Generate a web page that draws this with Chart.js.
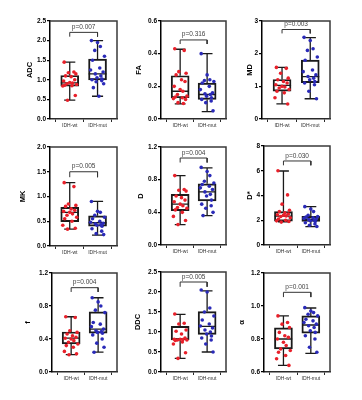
<!DOCTYPE html>
<html>
<head>
<meta charset="utf-8">
<script src="https://cdn.jsdelivr.net/npm/chart.js@4.4.0/dist/chart.umd.min.js"></script>
<style>
  html, body { margin: 0; padding: 0; background: #fff; }
  #wrap { position: relative; width: 362px; height: 400px; }
  #wrap canvas { position: absolute; }
</style>
</head>
<body>
<div id="wrap"></div>
<script>
// groups and p-values
const groups = ['IDH-wt', 'IDH-mut'];

// box stats: [min, q1, median, q3, max]
const adcWt = [1.45, 1.20, 1.18, 1.15, 1.10, 1.08, 1.00, 0.97, 0.93, 0.92, 0.90, 0.88, 0.86, 0.85, 0.84, 0.60, 0.48];
const adcMut = [2.00, 1.95, 1.85, 1.75, 1.60, 1.50, 1.30, 1.25, 1.20, 1.15, 1.10, 1.05, 1.02, 1.00, 0.98, 0.95, 0.90, 0.80, 0.58];
const adcBoxWt = [0.48, 0.84, 0.92, 1.11, 1.45];
const adcBoxMut = [0.58, 1.00, 1.15, 1.53, 2.00];
const adcTicks = ['0.0', '0.5', '1.0', '1.5', '2.0', '2.5'];

const faWt = [0.43, 0.42, 0.29, 0.28, 0.27, 0.24, 0.23, 0.20, 0.18, 0.17, 0.15, 0.14, 0.135, 0.13, 0.125, 0.12, 0.10, 0.095];
const faMut = [0.40, 0.27, 0.24, 0.235, 0.23, 0.22, 0.20, 0.18, 0.16, 0.155, 0.15, 0.14, 0.13, 0.12, 0.11, 0.10, 0.05];
const faBoxWt = [0.092, 0.13, 0.17, 0.265, 0.427];
const faBoxMut = [0.045, 0.12, 0.15, 0.22, 0.40];
const faTicks = ['0.0', '0.2', '0.4', '0.6'];

const mdWt = [1.58, 1.55, 1.40, 1.25, 1.20, 1.15, 1.10, 1.05, 1.00, 0.98, 0.95, 0.90, 0.85, 0.80, 0.65, 0.46];
const mdMut = [2.50, 2.40, 2.15, 2.10, 1.90, 1.80, 1.50, 1.45, 1.35, 1.30, 1.25, 1.20, 1.15, 1.10, 1.05, 0.85, 0.62];
const mdBoxWt = [0.46, 0.85, 1.03, 1.21, 1.58];
const mdBoxMut = [0.62, 1.11, 1.30, 1.80, 2.49];
const mdTicks = ['0', '1', '2', '3'];

const mkWt = [1.28, 1.20, 0.85, 0.82, 0.80, 0.75, 0.72, 0.70, 0.68, 0.65, 0.62, 0.58, 0.55, 0.50, 0.42, 0.36, 0.34];
const mkMut = [0.90, 0.70, 0.68, 0.62, 0.58, 0.55, 0.50, 0.48, 0.46, 0.45, 0.43, 0.42, 0.40, 0.35, 0.30, 0.25, 0.23];
const mkBoxWt = [0.34, 0.49, 0.68, 0.78, 1.28];
const mkBoxMut = [0.22, 0.40, 0.47, 0.61, 0.90];
const mkTicks = ['0.0', '0.5', '1.0', '1.5', '2.0'];

const dWt = [0.85, 0.68, 0.67, 0.66, 0.60, 0.58, 0.55, 0.53, 0.50, 0.48, 0.46, 0.45, 0.43, 0.40, 0.35, 0.30, 0.25];
const dMut = [0.95, 0.90, 0.85, 0.78, 0.76, 0.74, 0.72, 0.70, 0.68, 0.65, 0.62, 0.60, 0.55, 0.50, 0.48, 0.45, 0.40, 0.36];
const dBoxWt = [0.25, 0.42, 0.50, 0.62, 0.85];
const dBoxMut = [0.36, 0.54, 0.65, 0.75, 0.945];
const dTicks = ['0.0', '0.4', '0.8', '1.2'];

const dsWt = [6.0, 4.05, 3.3, 2.8, 2.7, 2.6, 2.5, 2.45, 2.4, 2.35, 2.3, 2.2, 2.1, 2.0, 1.95, 1.9, 1.85];
const dsMut = [3.1, 2.9, 2.7, 2.4, 2.3, 2.25, 2.2, 2.15, 2.1, 2.05, 2.0, 1.95, 1.9, 1.8, 1.7, 1.6, 1.5];
const dsBoxWt = [1.88, 1.92, 2.34, 2.70, 5.98];
const dsBoxMut = [1.48, 1.91, 2.08, 2.32, 3.10];
const dsTicks = ['0', '2', '4', '6', '8'];

const fWt = [0.67, 0.66, 0.50, 0.48, 0.46, 0.44, 0.42, 0.41, 0.40, 0.38, 0.36, 0.34, 0.32, 0.30, 0.25, 0.22, 0.21];
const fMut = [0.90, 0.85, 0.80, 0.75, 0.72, 0.60, 0.58, 0.55, 0.52, 0.50, 0.49, 0.48, 0.47, 0.45, 0.40, 0.35, 0.30, 0.24];
const fBoxWt = [0.21, 0.34, 0.41, 0.485, 0.67];
const fBoxMut = [0.24, 0.47, 0.52, 0.73, 0.90];
const fTicks = ['0.0', '0.4', '0.8', '1.2'];

const ddcWt = [1.45, 1.22, 1.20, 1.05, 1.02, 0.95, 0.85, 0.82, 0.82, 0.81, 0.80, 0.80, 0.79, 0.75, 0.70, 0.48, 0.34];
const ddcMut = [2.05, 2.00, 1.60, 1.50, 1.40, 1.30, 1.20, 1.15, 1.10, 1.05, 1.00, 0.95, 0.90, 0.85, 0.80, 0.70, 0.50];
const ddcBoxWt = [0.34, 0.80, 0.82, 1.14, 1.44];
const ddcBoxMut = [0.50, 0.94, 1.14, 1.51, 2.03];
const ddcTicks = ['0.0', '0.5', '1.0', '1.5', '2.0', '2.5'];

const aWt = [0.94, 0.90, 0.89, 0.87, 0.84, 0.82, 0.81, 0.80, 0.78, 0.76, 0.74, 0.73, 0.72, 0.70, 0.68, 0.64];
const aMut = [0.99, 0.97, 0.96, 0.95, 0.94, 0.92, 0.91, 0.90, 0.89, 0.88, 0.87, 0.85, 0.84, 0.82, 0.80, 0.75, 0.72];
const aBoxWt = [0.64, 0.74, 0.80, 0.867, 0.94];
const aBoxMut = [0.713, 0.836, 0.885, 0.94, 0.988];
const aTicks = ['0.6', '0.8', '1.0', '1.2'];

// [label, wt, mut, boxWt, boxMut, ticks, p text, bracket low, bracket high]
const panels = [
  ['ADC', adcWt, adcMut, adcBoxWt, adcBoxMut, adcTicks, 'p=0.007', 2.10, 2.21],
  ['FA',  faWt,  faMut,  faBoxWt,  faBoxMut,  faTicks,  'p=0.316', 0.459, 0.484],
  ['MD',  mdWt,  mdMut,  mdBoxWt,  mdBoxMut,  mdTicks,  'p=0.003', 2.62, 2.74],
  ['MK',  mkWt,  mkMut,  mkBoxWt,  mkBoxMut,  mkTicks,  'p=0.005', 1.39, 1.50],
  ['D',   dWt,   dMut,   dBoxWt,   dBoxMut,   dTicks,   'p=0.004', 1.01, 1.065],
  ['D*',  dsWt,  dsMut,  dsBoxWt,  dsBoxMut,  dsTicks,  'p=0.030', 6.44, 6.79],
  ['f',   fWt,   fMut,   fBoxWt,   fBoxMut,   fTicks,   'p=0.004', 0.97, 1.022],
  ['DDC', ddcWt, ddcMut, ddcBoxWt, ddcBoxMut, ddcTicks, 'p=0.005', 2.13, 2.25],
  ['α',   aWt,   aMut,   aBoxWt,   aBoxMut,   aTicks,   'p=0.001', 1.054, 1.083]
];

// plot area of each panel on the page: left, right, top, bottom, y-title offset
const layout = [
  [50, 118, 21, 119, 20], [161, 227, 21, 119, 22], [262, 331, 21, 119, 12],
  [50, 118, 147, 246, 27], [161, 227, 147, 245, 20], [264, 331, 146, 245, 14],
  [52, 118, 273, 372, 24], [161, 227, 272, 372, 23], [264, 331, 273, 372, 22]
];

// horizontal spread of the dots around each group centre
const jitter = [-0.2, 0.15, -0.05, 0.22, -0.15, 0.05, 0.18, -0.22, 0.0, 0.1, -0.1, 0.25, -0.18, 0.08, -0.25, 0.2, -0.08, 0.12, -0.02, 0.16];

const FONT = 'Liberation Sans, Arial, sans-serif';

function whiskers(s, cx) {
  const bw = 0.32, cw = 0.2;
  return [
    {x: cx - bw, y: s[2]}, {x: cx + bw, y: s[2]}, {x: cx, y: null},
    {x: cx, y: s[3]}, {x: cx, y: s[4]}, {x: cx, y: null},
    {x: cx - cw, y: s[4]}, {x: cx + cw, y: s[4]}, {x: cx, y: null},
    {x: cx, y: s[1]}, {x: cx, y: s[0]}, {x: cx, y: null},
    {x: cx - cw, y: s[0]}, {x: cx + cw, y: s[0]}
  ];
}

const framePlugin = {
  id: 'frame',
  afterDraw(chart) {
    const {ctx, chartArea: a} = chart;
    ctx.save();
    ctx.strokeStyle = '#3a3a3a';
    ctx.lineWidth = 1.5;
    ctx.beginPath();
    ctx.moveTo(a.left, a.top);
    ctx.lineTo(a.right, a.top);
    ctx.lineTo(a.right, a.bottom);
    ctx.stroke();
    ctx.restore();
  }
};

const pPlugin = {
  id: 'ptext',
  afterDatasetsDraw(chart, args, opts) {
    const {ctx, scales} = chart;
    ctx.save();
    ctx.font = '6.5px ' + FONT;
    ctx.fillStyle = '#444';
    ctx.textAlign = 'center';
    ctx.textBaseline = 'bottom';
    ctx.fillText(opts.text, scales.x.getPixelForValue(1.5), scales.y.getPixelForValue(opts.y) - 2);
    ctx.restore();
  }
};

const wrap = document.getElementById('wrap');

panels.forEach(([label, wt, mut, bWt, bMut, ticks, pText, bLo, bHi], k) => {
  const [left, right, top, bottom, tOff] = layout[k];
  const W = Math.round(tOff + 4.5), padTop = 6, xH = 20, padRight = 3;
  const c = document.createElement('canvas');
  c.width = W + (right - left) + padRight;
  c.height = padTop + (bottom - top) + xH;
  c.style.left = (left - W) + 'px';
  c.style.top = (top - padTop) + 'px';
  wrap.appendChild(c);

  const yVals = ticks.map(Number);

  new Chart(c, {
    type: 'scatter',
    data: {
      datasets: [
        {
          type: 'scatter',
          data: wt.map((v, i) => ({x: 1 + jitter[i % jitter.length], y: v})),
          backgroundColor: '#e8202a', borderColor: '#e8202a',
          pointRadius: 1.8, borderWidth: 0, order: 0
        },
        {
          type: 'scatter',
          data: mut.map((v, i) => ({x: 2 + jitter[(i + 7) % jitter.length], y: v})),
          backgroundColor: '#2a2ab8', borderColor: '#2a2ab8',
          pointRadius: 1.8, borderWidth: 0, order: 0
        },
        {
          type: 'bar',
          data: [{x: 1, y: [bWt[1], bWt[3]]}, {x: 2, y: [bMut[1], bMut[3]]}],
          backgroundColor: 'rgba(255,255,255,0)',
          borderColor: '#1a1a1a', borderWidth: 1.3, borderSkipped: false,
          barThickness: 18, order: 2
        },
        {
          type: 'line',
          data: whiskers(bWt, 1).concat([{x: 1.5, y: null}], whiskers(bMut, 2)),
          borderColor: '#1a1a1a', borderWidth: 1.3, pointRadius: 0,
          spanGaps: false, tension: 0, fill: false, order: 1
        },
        {
          type: 'line',
          data: [{x: 1, y: bLo}, {x: 1, y: bHi}, {x: 2, y: bHi}, {x: 2, y: bLo}],
          borderColor: '#333', borderWidth: 1, pointRadius: 0,
          tension: 0, fill: false, order: 1
        }
      ]
    },
    options: {
      responsive: false,
      animation: false,
      devicePixelRatio: 1,
      layout: { padding: { top: padTop, right: padRight, left: 0, bottom: 0 } },
      plugins: {
        legend: { display: false },
        tooltip: { enabled: false },
        ptext: { text: pText, y: bHi }
      },
      scales: {
        x: {
          type: 'linear', min: 0.29, max: 2.7, offset: false,
          afterBuildTicks: s => { s.ticks = [{value: 1}, {value: 2}]; },
          afterFit: s => { s.height = xH; },
          border: { color: '#2a2a2a', width: 1.5 },
          grid: { display: true, drawOnChartArea: false, tickLength: 3, color: '#2a2a2a', lineWidth: 1 },
          ticks: {
            padding: 1, color: '#333', font: { family: FONT, size: 5 },
            callback: (v, i) => groups[i]
          }
        },
        y: {
          min: yVals[0], max: yVals[yVals.length - 1],
          afterBuildTicks: s => { s.ticks = yVals.map(v => ({value: v})); },
          afterFit: s => { s.width = W; },
          border: { color: '#000', width: 1.5 },
          grid: { display: true, drawOnChartArea: false, tickLength: 3, color: '#000', lineWidth: 1.2 },
          ticks: {
            padding: 1, color: '#000', font: { family: FONT, size: 6.5, weight: 'bold' },
            callback: (v, i) => ticks[i]
          },
          title: {
            display: true, text: label, color: '#000', padding: 0,
            font: { family: FONT, size: 7.5, weight: 'bold' }
          }
        }
      }
    },
    plugins: [framePlugin, pPlugin]
  });
});
</script>
</body>
</html>
